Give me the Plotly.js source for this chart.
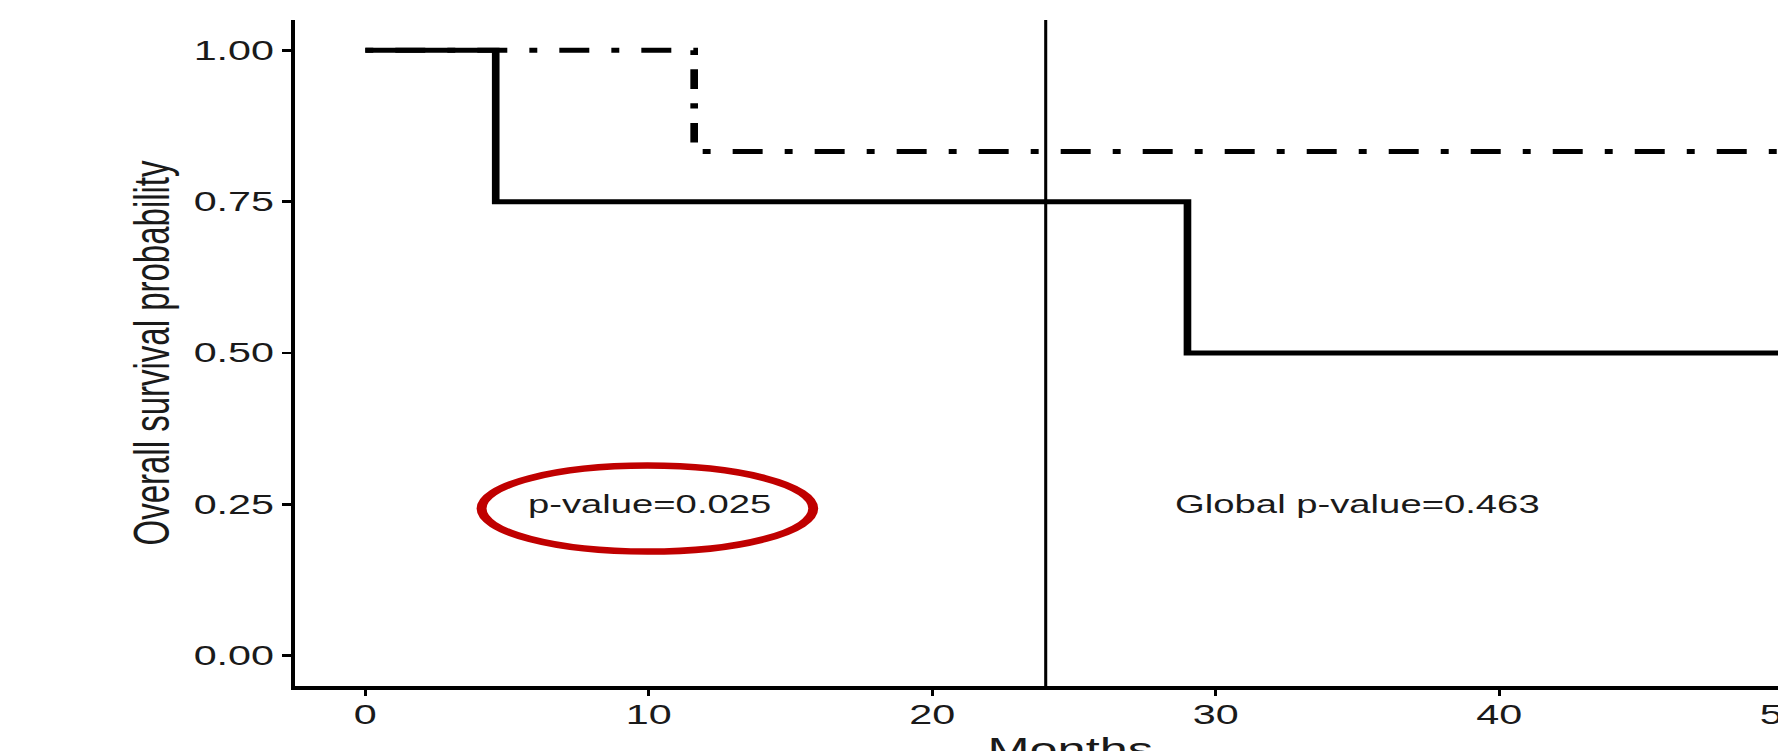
<!DOCTYPE html>
<html>
<head>
<meta charset="utf-8">
<script src="https://cdn.plot.ly/plotly-3.0.1.min.js"></script>
<style>
  html, body { margin: 0; padding: 0; width: 1778px; height: 751px; overflow: hidden; background: #ffffff; }
  #wrap { position: absolute; left: 0; top: 0; transform: scaleX(1.53); transform-origin: 0 0; }
  #chart { width: 1220px; height: 800px; }
</style>
</head>
<body>
<div id="wrap"><div id="chart"></div></div>
<script>
// ---- data ----
const groupNames = ["Group 1", "Group 2"];
const solidTimes = [0, 4.6, 29.0, 52.2];
const solidSurv  = [1.00, 0.75, 0.50, 0.50];
const dashTimes  = [0, 11.6, 52.2];
const dashSurv   = [1.00, 0.833, 0.833];
const cutoffMonth = 24;
const xTickVals = [0, 10, 20, 30, 40, 50];
const xTickText = ["0", "10", "20", "30", "40", "50"];
const yTickVals = [0, 0.25, 0.50, 0.75, 1.00];
const yTickText = ["0.00", "0.25", "0.50", "0.75", "1.00"];
const pText = "p-value=0.025";
const pAt = [10, 0.25];
const globalText = "Global p-value=0.463";
const globalAt = [35, 0.25];
const ellipseX = [4.1, 15.8];
const ellipseY = [0.172, 0.314];
const xTitle = "Months";
const yTitle = "Overall survival probability";

const FONT = "Liberation Sans, Arial, Helvetica, sans-serif";
const INK = "#1a1a1a";

const traces = [
  {
    x: dashTimes, y: dashSurv, name: groupNames[1], type: "scatter", mode: "lines",
    line: { shape: "hv", color: "#000000", width: 5, dash: "5.2px,14.4px,19.6px,14.4px" },
    hoverinfo: "x+y"
  },
  {
    x: solidTimes, y: solidSurv, name: groupNames[0], type: "scatter", mode: "lines",
    line: { shape: "hv", color: "#000000", width: 5 },
    hoverinfo: "x+y"
  }
];

const layout = {
  width: 1220, height: 800,
  margin: { l: 193, r: 14, t: 20, b: 114 },
  paper_bgcolor: "#ffffff", plot_bgcolor: "#ffffff",
  showlegend: false,
  font: { family: FONT, color: INK },
  xaxis: {
    range: [-2.47, 52.2],
    tickmode: "array", tickvals: xTickVals, ticktext: xTickText,
    showgrid: false, zeroline: false,
    showline: true, linecolor: "#000000", linewidth: 3.5,
    ticks: "outside", ticklen: 6, tickwidth: 2, tickcolor: "#000000",
    ticklabelstandoff: -4,
    tickfont: { family: FONT, size: 27, color: INK },
    title: { text: xTitle, font: { family: FONT, size: 33, color: INK }, standoff: 10 }
  },
  yaxis: {
    range: [-0.05, 1.05],
    tickmode: "array", tickvals: yTickVals, ticktext: yTickText,
    showgrid: false, zeroline: false,
    showline: true, linecolor: "#000000", linewidth: 2.5,
    ticks: "outside", ticklen: 6, tickwidth: 2.5, tickcolor: "#000000",
    ticklabelstandoff: 0,
    tickfont: { family: FONT, size: 27, color: INK },
    title: { text: yTitle, font: { family: FONT, size: 33, color: INK }, standoff: 6 }
  },
  shapes: [
    { type: "line", xref: "x", yref: "paper", x0: cutoffMonth, x1: cutoffMonth, y0: 0, y1: 1,
      line: { color: "#000000", width: 2 } },
    { type: "circle", xref: "x", yref: "y", x0: ellipseX[0], x1: ellipseX[1], y0: ellipseY[0], y1: ellipseY[1],
      line: { color: "#c00000", width: 6.5 }, fillcolor: "rgba(0,0,0,0)" }
  ],
  annotations: [
    { x: pAt[0], y: pAt[1], xref: "x", yref: "y", text: pText, showarrow: false,
      xanchor: "center", yanchor: "middle", font: { family: FONT, size: 25, color: INK } },
    { x: globalAt[0], y: globalAt[1], xref: "x", yref: "y", text: globalText, showarrow: false,
      xanchor: "center", yanchor: "middle", font: { family: FONT, size: 25, color: INK } }
  ]
};

Plotly.newPlot("chart", traces, layout, { displayModeBar: false, staticPlot: true });
</script>
</body>
</html>
